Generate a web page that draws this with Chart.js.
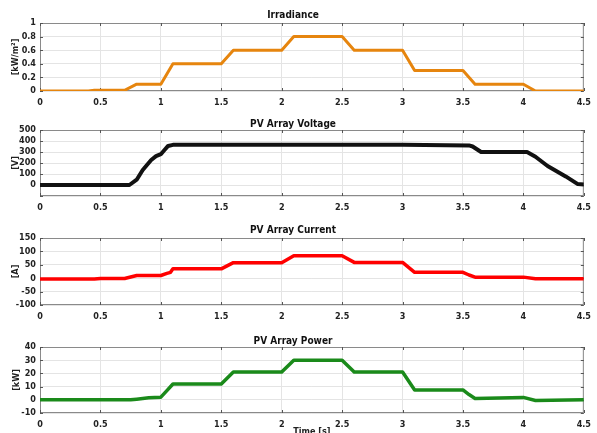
<!DOCTYPE html>
<html>
<head>
<meta charset="utf-8">
<script src="https://cdn.jsdelivr.net/npm/chart.js@4/dist/chart.umd.min.js"></script>
<style>
  html, body { margin: 0; padding: 0; background: #fff; overflow: hidden; }
  body { width: 597px; height: 433px; position: relative; }
  canvas { position: absolute; left: 0; }
</style>
</head>
<body>
<canvas id="irr" width="597" height="98" style="top:9px"></canvas>
<canvas id="volt" width="597" height="94" style="top:118px"></canvas>
<canvas id="curr" width="597" height="97" style="top:224px"></canvas>
<canvas id="pow" width="597" height="104" style="top:335px"></canvas>
<script>
// time axis ticks
const timeTicks = [0, 0.5, 1, 1.5, 2, 2.5, 3, 3.5, 4, 4.5]

// irradiance [kW/m2]
const irrTime  = [0, 0.4, 0.45, 0.7, 0.8, 1.0, 1.1, 1.5, 1.6, 2.0, 2.1, 2.5, 2.6, 3.0, 3.1, 3.5, 3.6, 4.0, 4.1, 4.5]
const irrValue = [0, 0, 0.01, 0.01, 0.1, 0.1, 0.4, 0.4, 0.6, 0.6, 0.8, 0.8, 0.6, 0.6, 0.3, 0.3, 0.1, 0.1, 0, 0]

// PV array voltage [V]
const voltTime  = [0, 0.74, 0.8, 0.85, 0.92, 0.96, 1.0, 1.03, 1.06, 1.1, 3.0, 3.55, 3.58, 3.65, 4.03, 4.1, 4.2, 4.35, 4.45, 4.5]
const voltValue = [0, 0, 48, 137, 227, 262, 280, 318, 355, 365, 365, 360, 350, 300, 300, 257, 173, 78, 8, 5]

// PV array current [A]
const currTime  = [0, 0.45, 0.5, 0.7, 0.8, 1.0, 1.05, 1.08, 1.1, 1.5, 1.6, 2.0, 2.1, 2.5, 2.6, 3.0, 3.1, 3.5, 3.55, 3.6, 4.0, 4.1, 4.5]
const currValue = [-3, -3, -1, -1, 10, 10, 18, 22, 35, 35, 58, 58, 84, 84, 59, 59, 22, 22, 12, 4, 4, -2, -2]

// PV array power [kW]
const powTime  = [0, 0.75, 0.8, 0.9, 1.0, 1.05, 1.1, 1.5, 1.6, 2.0, 2.1, 2.5, 2.6, 3.0, 3.1, 3.5, 3.55, 3.6, 4.0, 4.1, 4.5]
const powValue = [0, 0, 0.5, 1.5, 2, 7, 12, 12, 21, 21, 30, 30, 21, 21, 7.5, 7.5, 4, 1, 1.8, -0.5, 0]

const FONT = "'Liberation Sans Narrow', 'Arial Narrow', 'DejaVu Sans Condensed', sans-serif"

// MATLAB style box + inward tick marks
const framePlugin = {
  id: 'frame',
  beforeDatasetsDraw(chart) {
    const { ctx, chartArea: a, scales } = chart
    ctx.save()
    ctx.strokeStyle = '#8a8a8a'
    ctx.lineWidth = 1
    ctx.strokeRect(a.left + 0.5, a.top + 0.5, a.right - a.left - 1, a.bottom - a.top - 1)
    ctx.strokeStyle = '#555'
    ctx.beginPath()
    scales.x.ticks.forEach(t => {
      const px = Math.round(scales.x.getPixelForValue(t.value)) + 0.5
      ctx.moveTo(px, a.top); ctx.lineTo(px, a.top + 3)
      ctx.moveTo(px, a.bottom); ctx.lineTo(px, a.bottom - 3)
    })
    scales.y.ticks.forEach(t => {
      const py = Math.round(scales.y.getPixelForValue(t.value)) + 0.5
      ctx.moveTo(a.left, py); ctx.lineTo(a.left + 3, py)
      ctx.moveTo(a.right, py); ctx.lineTo(a.right - 3, py)
    })
    ctx.stroke()
    ctx.restore()
  }
}

function makeChart(id, cfg) {
  const points = cfg.time.map((t, i) => ({ x: t, y: cfg.values[i] }))
  return new Chart(document.getElementById(id), {
    type: 'line',
    data: {
      datasets: [{
        data: points,
        borderColor: cfg.color,
        borderWidth: cfg.width || 3,
        pointRadius: 0,
        tension: 0,
        borderJoinStyle: 'round'
      }]
    },
    options: {
      responsive: false,
      animation: false,
      layout: { padding: { left: 0, right: 11, top: 0, bottom: 0 } },
      plugins: {
        legend: { display: false },
        tooltip: { enabled: false },
        title: {
          display: true,
          text: cfg.title,
          color: '#111',
          font: { family: FONT, size: 10, weight: 'bold', lineHeight: 1.2 },
          padding: { top: 0, bottom: cfg.titleGap }
        }
      },
      scales: {
        x: {
          type: 'linear',
          min: 0,
          max: 4.5,
          afterBuildTicks: s => { s.ticks = timeTicks.map(v => ({ value: v })) },
          afterFit: s => { s.height = cfg.xHeight || 16 },
          ticks: {
            autoSkip: false,
            padding: 6,
            maxRotation: 0,
            color: '#222',
            font: { family: FONT, size: 9, weight: 'bold' },
            callback: v => String(v)
          },
          grid: { color: '#e4e4e4', drawTicks: false },
          border: { display: false },
          title: {
            display: !!cfg.xTitle,
            text: cfg.xTitle || '',
            color: '#222',
            font: { family: FONT, size: 9, weight: 'bold' },
            padding: { top: 0, bottom: 2 }
          }
        },
        y: {
          min: cfg.yMin,
          max: cfg.yMax,
          afterFit: s => { s.width = 40 },
          ticks: {
            autoSkip: false,
            stepSize: cfg.yStep,
            padding: 4,
            color: '#222',
            font: { family: FONT, size: 9, weight: 'bold' },
            callback: v => (cfg.hideMin && v === cfg.yMin) ? '' : String(Math.round(v * 10) / 10)
          },
          grid: { color: '#e4e4e4', drawTicks: false },
          border: { display: false },
          title: {
            display: true,
            text: cfg.yTitle,
            color: '#222',
            font: { family: FONT, size: 9, weight: 'bold', lineHeight: 1.1 },
            padding: { top: cfg.yTitlePad, bottom: 0 }
          }
        }
      }
    },
    plugins: [framePlugin]
  })
}

makeChart('irr', {
  title: 'Irradiance', titleGap: 2,
  time: irrTime, values: irrValue, color: '#E6850E',
  yMin: 0, yMax: 1, yStep: 0.2, yTitle: '[kW/m²]', yTitlePad: 11
})

makeChart('volt', {
  title: 'PV Array Voltage', titleGap: 0,
  time: voltTime, values: voltValue, color: '#111111', width: 4,
  yMin: -100, yMax: 500, yStep: 100, hideMin: true, yTitle: '[V]', yTitlePad: 11
})

makeChart('curr', {
  title: 'PV Array Current', titleGap: 2,
  time: currTime, values: currValue, color: '#FF0000', width: 3.5,
  yMin: -100, yMax: 150, yStep: 50, yTitle: '[A]', yTitlePad: 11
})

makeChart('pow', {
  title: 'PV Array Power', titleGap: 0,
  time: powTime, values: powValue, color: '#1A8A1A', width: 3.5,
  yMin: -10, yMax: 40, yStep: 10, yTitle: '[kW]', yTitlePad: 12,
  xTitle: 'Time [s]', xHeight: 26
})
</script>
</body>
</html>
